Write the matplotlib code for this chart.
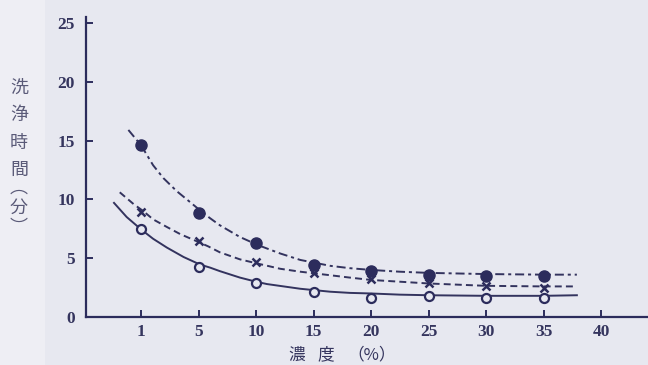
import matplotlib
matplotlib.use("Agg")
import matplotlib.pyplot as plt
from matplotlib.patches import Rectangle

plt.rcParams['lines.scale_dashes'] = False

# ---- data ----
conc_labels = ["1", "5", "10", "15", "20", "25", "30", "35", "40"]
conc_pos = [1, 2, 3, 4, 5, 6, 7, 8, 9]          # equally spaced categories
data_pos = [1, 2, 3, 4, 5, 6, 7, 8]             # measured concentrations 1..35
filled_vals = [14.6, 8.85, 6.25, 4.4, 3.9, 3.6, 3.5, 3.45]
cross_vals = [8.95, 6.5, 4.65, 3.7, 3.2, 2.9, 2.6, 2.45]
open_vals = [7.5, 4.25, 2.9, 2.15, 1.65, 1.75, 1.6, 1.6]

# fitted curves (position, value)
fit_filled_x = [0.78, 1.0, 1.21, 1.39, 1.62, 1.82, 2.03, 2.2, 2.37, 2.72, 3.04,
                3.42, 3.77, 4.29, 4.63, 5.0, 5.5, 6.0, 7.0, 8.0, 8.58]
fit_filled_y = [15.9, 14.6, 12.9, 11.8, 10.7, 9.9, 9.05, 8.4, 7.8, 6.8, 6.1,
                5.4, 4.85, 4.35, 4.15, 4.0, 3.85, 3.75, 3.65, 3.6, 3.6]
fit_cross_x = [0.63, 0.87, 1.04, 1.21, 1.45, 1.68, 1.94, 2.17, 2.37, 2.72, 3.02,
               3.42, 3.77, 4.29, 4.63, 5.0, 5.5, 6.0, 7.0, 8.0, 8.58]
fit_cross_y = [10.6, 9.6, 9.0, 8.3, 7.65, 7.05, 6.5, 6.0, 5.5, 4.9, 4.55,
               4.1, 3.85, 3.55, 3.35, 3.15, 3.0, 2.85, 2.65, 2.6, 2.6]
fit_open_x = [0.53, 0.75, 1.0, 1.21, 1.45, 1.74, 2.03, 2.2, 2.37, 2.72, 3.0,
              3.19, 3.77, 4.29, 4.63, 5.0, 5.5, 6.0, 7.0, 8.0, 8.58]
fit_open_y = [9.7, 8.5, 7.45, 6.65, 5.9, 5.1, 4.45, 4.2, 3.9, 3.35, 3.0,
              2.8, 2.4, 2.15, 2.05, 2.0, 1.9, 1.85, 1.8, 1.8, 1.85]

y_ticks = [0, 5, 10, 15, 20, 25]

ink = "#2c2c5c"
line_ink = "#33335e"
text_ink = "#35355e"
bg = "#e7e8f0"

fig = plt.figure(figsize=(6.48, 3.65), dpi=100, facecolor=bg)
fig.patches.append(Rectangle((0, 0), 45 / 648, 1, transform=fig.transFigure,
                             facecolor="#eeeef4", edgecolor="none", zorder=-10))
ax = fig.add_axes([86 / 648, 48 / 365, (648 - 86) / 648, 300 / 365])
ax.set_facecolor("none")

ax.plot(fit_filled_x, fit_filled_y, color=line_ink, lw=1.4,
        linestyle=(0, (6.5, 2.8, 2.2, 2.8)))
ax.plot(fit_cross_x, fit_cross_y, color=line_ink, lw=1.4,
        linestyle=(0, (5.0, 3.0)))
ax.plot(fit_open_x, fit_open_y, color=line_ink, lw=1.4, linestyle='-')

ax.plot(data_pos, filled_vals, 'o', color=ink, ms=8, ls='none')
ax.plot(data_pos, cross_vals, 'x', color=ink, ms=6, mew=1.8, ls='none')
ax.plot(data_pos, open_vals, 'o', mfc=bg, mec=ink, ms=6.5, mew=1.6, ls='none')

ax.set_xlim(0.043, 9.817)
ax.set_ylim(0, 25.5)
ax.set_xticks(conc_pos)
ax.set_xticklabels(conc_labels)
ax.set_yticks(y_ticks)
ax.set_yticklabels([str(v) for v in y_ticks])

for s in ['top', 'right']:
    ax.spines[s].set_visible(False)
for s in ['left', 'bottom']:
    ax.spines[s].set_color(ink)
    ax.spines[s].set_linewidth(1.6)

ax.tick_params(axis='both', direction='in', length=5, width=1.4, color=ink,
               labelcolor=text_ink)
ax.tick_params(axis='x', pad=5)
ax.tick_params(axis='y', pad=8)
for lab in ax.get_xticklabels() + ax.get_yticklabels():
    lab.set_fontfamily('Liberation Serif')
    lab.set_fontweight('bold')
    lab.set_fontsize(12.5)

cjk = ['Noto Sans CJK JP', 'DejaVu Sans']
ylabel_color = "#5a5a78"
for ch, yy in [("洗", 88), ("浄", 115), ("時", 143), ("間", 170),
               ("︵", 188), ("分", 208), ("︶", 228)]:
    fig.text(19 / 648, 1 - yy / 365, ch, family=cjk, fontsize=13,
             color=ylabel_color, ha='center', va='center')

for ch, xx in [("濃", 297), ("度", 326), ("（%）", 372)]:
    fig.text(xx / 648, 1 - 355 / 365, ch, family=cjk, fontsize=12,
             color=text_ink, ha='center', va='center')

fig.savefig("out.png", dpi=100, facecolor=bg)
